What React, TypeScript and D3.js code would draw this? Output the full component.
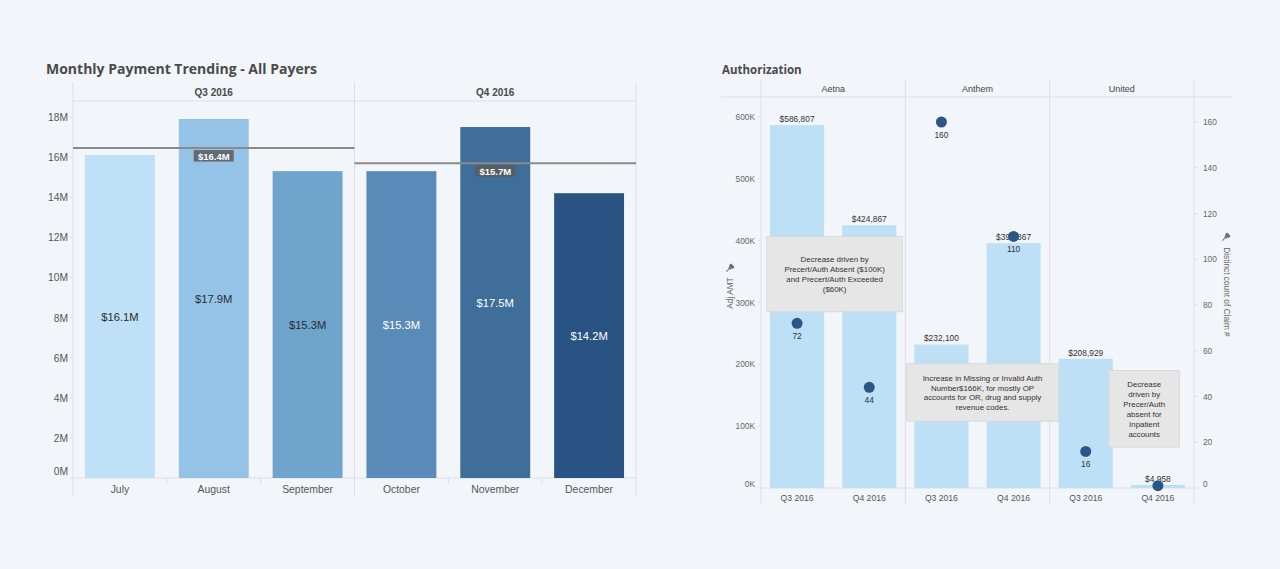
import React from "react";
import * as d3 from "d3";

// ---------- Left chart data ----------
const months = ["July", "August", "September", "October", "November", "December"];
const quarters = ["Q3 2016", "Q4 2016"];
const payments = [16.1, 17.9, 15.3, 15.3, 17.5, 14.2];
const quarterAvg = [16.45, 15.7];
const quarterAvgLabels = ["$16.4M", "$15.7M"];
const paymentTicks = [0, 2, 4, 6, 8, 10, 12, 14, 16, 18];
const monthColors = ["#bfe0f6", "#94c3e7", "#6fa4cd", "#5a8bb8", "#406e9a", "#285382"];
const monthLabelDark = [true, true, true, false, false, false];

// ---------- Right chart data ----------
const payers = ["Aetna", "Anthem", "United"];
const periods = ["Q3 2016", "Q4 2016"];
const adjAmt = [
  [586807, 424867],
  [232100, 395867],
  [208929, 4958],
];
const claimCounts = [
  [72, 44],
  [160, 110],
  [16, 1],
];
const showCountLabel = [
  [true, true],
  [true, true],
  [true, false],
];
const amtTicks = [0, 100000, 200000, 300000, 400000, 500000, 600000];
const countTicks = [0, 20, 40, 60, 80, 100, 120, 140, 160];
const notes = [
  { payer: "Aetna", lines: ["Decrease driven by", "Precert/Auth Absent ($100K)", "and Precert/Auth Exceeded", "($60K)"] },
  { payer: "Anthem", lines: ["Increase in Missing or Invalid Auth", "Number$166K, for mostly OP", "accounts for OR, drug and supply", "revenue codes."] },
  { payer: "United", lines: ["Decrease", "driven by", "Precer/Auth", "absent for", "Inpatient", "accounts"] },
];
// annotation boxes anchored in data space: [x0 (payer fraction), x1, top amt, bottom amt]
const noteBoxes = [
  { x0: 0.04, x1: 0.98, top: 407000, bottom: 285000 },
  { x0: 0.01, x1: 1.06, top: 201000, bottom: 108000 },
  { x0: 0.41, x1: 0.90, top: 190000, bottom: 66000 },
];

const FONT = "'Liberation Sans', Arial, sans-serif";
const TITLE_FONT = "'Open Sans', 'DejaVu Sans', sans-serif";
const GRID = "#dcdfe3";
const BG = "#f2f5fa";

function Pin({ x, y, rot }: { x: number; y: number; rot: number }) {
  return (
    <g transform={`translate(${x},${y}) rotate(${rot})`} fill="#6b6b6b" stroke="#6b6b6b">
      <rect x={-2.5} y={-4} width={5} height={3} strokeWidth={0} />
      <rect x={-1.5} y={-1} width={3} height={2} strokeWidth={0} />
      <line x1={0} y1={1} x2={0} y2={5} strokeWidth={1} />
    </g>
  );
}

function LeftChart() {
  const x0 = 73, x1 = 636, top = 82, headerBottom = 101, bottom = 497;
  const x = d3.scaleBand<string>().domain(months).range([x0, x1]).paddingInner(0.255).paddingOuter(0.1275);
  const y = d3.scaleLinear().domain([0, 18]).range([478, 117]);
  const qx = d3.scaleBand<string>().domain(quarters).range([x0, x1]);
  const base = y(0);
  return (
    <g>
      <text x={46} y={74} fontFamily={TITLE_FONT} fontWeight={700} fontSize={14} fill="#4a4a4a">
        Monthly Payment Trending - All Payers
      </text>
      <line x1={x0} x2={x1} y1={headerBottom} y2={headerBottom} stroke={GRID} />
      <line x1={x0} x2={x1} y1={base} y2={base} stroke={GRID} />
      {[x0, qx("Q4 2016")!, x1].map((v, i) => (
        <line key={i} x1={v} x2={v} y1={top} y2={bottom} stroke={GRID} />
      ))}
      {quarters.map((q) => (
        <text key={q} x={qx(q)! + qx.bandwidth() / 2} y={96} textAnchor="middle" fontFamily={FONT} fontWeight={700} fontSize={10} fill="#4a4a4a">
          {q}
        </text>
      ))}
      {paymentTicks.map((t) => (
        <g key={t}>
          <line x1={x0 - 3} x2={x0} y1={y(t)} y2={y(t)} stroke={GRID} />
          <text x={68} y={t === 0 ? y(t) - 3 : y(t) + 4} textAnchor="end" fontFamily={FONT} fontSize={10.3} fill="#555">
            {t}M
          </text>
        </g>
      ))}
      {months.map((m, i) => (
        <rect key={m} x={x(m)} y={y(payments[i])} width={x.bandwidth()} height={base - y(payments[i])} fill={monthColors[i]} />
      ))}
      {months.map((m, i) => (
        <text key={m} x={x(m)! + x.bandwidth() / 2} y={(y(payments[i]) + base) / 2 + 4} textAnchor="middle" fontFamily={FONT} fontSize={11.2} fill={monthLabelDark[i] ? "#2b2b2b" : "#ffffff"}>
          ${payments[i].toFixed(1)}M
        </text>
      ))}
      {months.map((m, i) =>
        i % 3 !== 0 ? (
          <line key={m} x1={x(m)! - (x.step() - x.bandwidth()) / 2} x2={x(m)! - (x.step() - x.bandwidth()) / 2} y1={base} y2={base + 6} stroke={GRID} />
        ) : null
      )}
      {months.map((m) => (
        <text key={m} x={x(m)! + x.bandwidth() / 2} y={493} textAnchor="middle" fontFamily={FONT} fontSize={10.4} fill="#555">
          {m}
        </text>
      ))}
      {quarters.map((q, i) => {
        const ly = y(quarterAvg[i]);
        const cx = qx(q)! + qx.bandwidth() / 2;
        return (
          <g key={q}>
            <line x1={qx(q)} x2={qx(q)! + qx.bandwidth()} y1={ly} y2={ly} stroke="#8a8a8a" strokeWidth={2} />
            <rect x={cx - 20} y={ly + 2} width={40} height={11.5} fill="#5a5a5a" opacity={0.85} />
            <text x={cx} y={ly + 11.5} textAnchor="middle" fontFamily={FONT} fontWeight={700} fontSize={9.5} fill="#ffffff">
              {quarterAvgLabels[i]}
            </text>
          </g>
        );
      })}
    </g>
  );
}

function RightChart() {
  const x0 = 761, x1 = 1194, top = 80, headerBottom = 97, bottom = 505;
  const px = d3.scaleBand<string>().domain(payers).range([x0, x1]);
  const qx = d3.scaleBand<string>().domain(periods).range([0, px.bandwidth()]).paddingInner(0.25).paddingOuter(0.125);
  const yA = d3.scaleLinear().domain([0, 600000]).range([488, 117]);
  const yC = d3.scaleLinear().domain([0, 160]).range([488, 122]);
  const base = yA(0);
  const fmt = d3.format("$,");
  const kfmt = (v: number) => `${v / 1000}K`;
  return (
    <g>
      <text x={722} y={74} fontFamily={TITLE_FONT} fontWeight={700} fontSize={11.5} fill="#4a4a4a">
        Authorization
      </text>
      <line x1={721} x2={1232} y1={headerBottom} y2={headerBottom} stroke={GRID} />
      <line x1={x0} x2={x1} y1={base} y2={base} stroke={GRID} />
      {[x0, px("Anthem")!, px("United")!, x1].map((v, i) => (
        <line key={i} x1={v} x2={v} y1={top} y2={bottom} stroke={GRID} />
      ))}
      {payers.map((p) => (
        <text key={p} x={px(p)! + px.bandwidth() / 2} y={92} textAnchor="middle" fontFamily={FONT} fontSize={9} fill="#444">
          {p}
        </text>
      ))}
      {amtTicks.map((t) => (
        <g key={t}>
          <line x1={x0 - 3} x2={x0} y1={yA(t)} y2={yA(t)} stroke={GRID} />
          <text x={755} y={t === 0 ? yA(t) - 1 : yA(t) + 3} textAnchor="end" fontFamily={FONT} fontSize={8.3} fill="#666">
            {kfmt(t)}
          </text>
        </g>
      ))}
      <text transform="translate(733,293) rotate(-90)" textAnchor="middle" fontFamily={FONT} fontSize={8.3} fill="#666">
        Adj AMT
      </text>
      <Pin x={730} y={268} rot={45} />
      {countTicks.map((t) => (
        <g key={t}>
          <line x1={x1} x2={x1 + 4} y1={yC(t)} y2={yC(t)} stroke={GRID} />
          <text x={1203} y={t === 0 ? yC(t) - 1 : yC(t) + 3} fontFamily={FONT} fontSize={8.3} fill="#666">
            {t}
          </text>
        </g>
      ))}
      <text transform="translate(1224,292) rotate(90)" textAnchor="middle" fontFamily={FONT} fontSize={8.3} fill="#666">
        Distinct count of Claim #
      </text>
      <Pin x={1226} y={237} rot={45} />
      {payers.map((p, i) =>
        periods.map((q, j) => (
          <rect key={p + q} x={px(p)! + qx(q)!} y={yA(adjAmt[i][j])} width={qx.bandwidth()} height={base - yA(adjAmt[i][j])} fill="#bde0f6" />
        ))
      )}
      {payers.map((p, i) =>
        periods.map((q, j) => (
          <text key={p + q} x={px(p)! + qx(q)! + qx.bandwidth() / 2} y={yA(adjAmt[i][j]) - 3} textAnchor="middle" fontFamily={FONT} fontSize={8.4} fill="#333">
            {fmt(adjAmt[i][j])}
          </text>
        ))
      )}
      {payers.map((p) =>
        periods.map((q) => (
          <text key={p + q} x={px(p)! + qx(q)! + qx.bandwidth() / 2} y={501} textAnchor="middle" fontFamily={FONT} fontSize={8.6} fill="#555">
            {q}
          </text>
        ))
      )}
      {notes.map((n, k) => {
        const b = noteBoxes[k];
        const bx0 = px(n.payer)! + b.x0 * px.bandwidth();
        const bx1 = px(n.payer)! + b.x1 * px.bandwidth();
        const by0 = yA(b.top);
        const by1 = yA(b.bottom);
        const cy = (by0 + by1) / 2;
        const lh = 9.9;
        const startY = cy - ((n.lines.length - 1) * lh) / 2 + 3;
        return (
          <g key={k}>
            <rect x={bx0} y={by0} width={bx1 - bx0} height={by1 - by0} fill="#e6e6e6" stroke="#d6d6d6" strokeWidth={0.8} />
            {n.lines.map((l, li) => (
              <text key={li} x={(bx0 + bx1) / 2} y={startY + li * lh} textAnchor="middle" fontFamily={FONT} fontSize={7.9} fill="#333">
                {l}
              </text>
            ))}
          </g>
        );
      })}
      {payers.map((p, i) =>
        periods.map((q, j) => {
          const cx = px(p)! + qx(q)! + qx.bandwidth() / 2;
          const cy = yC(claimCounts[i][j]);
          return (
            <g key={p + q}>
              <circle cx={cx} cy={cy} r={5.5} fill="#2a5689" />
              {showCountLabel[i][j] ? (
                <text x={cx} y={cy + 16} textAnchor="middle" fontFamily={FONT} fontSize={8.4} fill="#333">
                  {claimCounts[i][j]}
                </text>
              ) : null}
            </g>
          );
        })
      )}
    </g>
  );
}

export default function App() {
  return (
    <div style={{ position: "fixed", left: 0, top: 0, width: 1280, height: 569, background: BG }}>
      <svg width={1280} height={569} style={{ display: "block" }}>
        <rect width={1280} height={569} fill={BG} />
        <LeftChart />
        <RightChart />
      </svg>
    </div>
  );
}
